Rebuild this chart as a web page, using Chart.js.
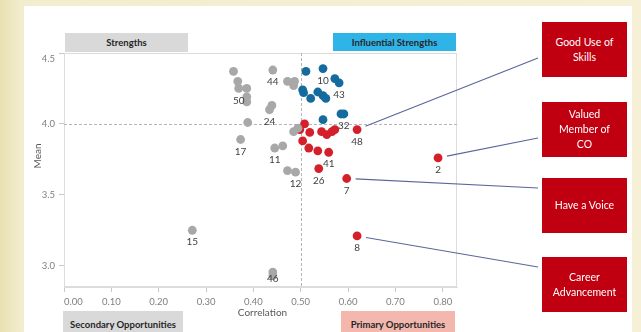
<!DOCTYPE html>
<html>
<head>
<meta charset="utf-8">
<script src="https://cdn.jsdelivr.net/npm/chart.js@4/dist/chart.umd.min.js"></script>
<style>
  html, body { margin: 0; padding: 0; }
  body {
    width: 641px; height: 332px; overflow: hidden; position: relative;
    background: linear-gradient(to right, #e9e0b2 0px, #f3edcf 22px, #f5f0d6 100%);
    font-family: Lato, "Open Sans", sans-serif;
  }
  #panel { position: absolute; left: 24px; top: 6px; width: 608px; height: 330px; background: #ffffff; }
  #wrap { position: absolute; left: 0; top: 0; width: 641px; height: 332px; }
  .tag {
    position: absolute; display: flex; align-items: center; justify-content: center;
    font-weight: bold; font-size: 9.5px; color: #262626; white-space: nowrap;
  }
  .call {
    position: absolute; background: #c00010; color: #ffffff;
    display: flex; align-items: center; justify-content: center; text-align: center;
    font-size: 10.5px; line-height: 15px;
  }
</style>
</head>
<body>
<div id="panel"></div>
<div id="wrap"><canvas id="c" width="641" height="332"></canvas></div>
<script>
// Correlation (x) vs mean score (y) for each survey item, grouped by quadrant.
const grayX = [0.358, 0.367, 0.369, 0.386, 0.386, 0.386, 0.441, 0.472, 0.487, 0.485, 0.439, 0.434,
               0.388, 0.373, 0.445, 0.462, 0.485, 0.494, 0.472, 0.489, 0.271, 0.441, 0.441];
const grayY = [4.37, 4.30, 4.25, 4.25, 4.19, 4.155, 4.38, 4.30, 4.30, 4.27, 4.13, 4.10,
               4.01, 3.89, 3.83, 3.845, 3.945, 3.97, 3.67, 3.66, 3.25, 2.955, 2.93];
const grayIds = ['', '', '50', '', '', '', '44', '', '', '', '', '24',
                 '', '17', '11', '', '', '', '', '12', '15', '', '46'];

const blueX = [0.547, 0.511, 0.572, 0.581, 0.504, 0.506, 0.521, 0.536, 0.547, 0.553, 0.547, 0.585, 0.591];
const blueY = [4.39, 4.37, 4.32, 4.29, 4.24, 4.22, 4.18, 4.225, 4.20, 4.18, 4.03, 4.07, 4.07];
const blueIds = ['10', '', '', '43', '', '', '', '', '', '', '', '', '32'];

const redX = [0.508, 0.498, 0.519, 0.544, 0.555, 0.566, 0.572, 0.619, 0.504, 0.517, 0.536, 0.559,
              0.538, 0.597, 0.619, 0.790];
const redY = [4.00, 3.96, 3.94, 3.945, 3.925, 3.945, 3.96, 3.96, 3.88, 3.83, 3.81, 3.80,
              3.685, 3.615, 3.21, 3.76];
const redIds = ['', '', '', '', '', '', '', '48', '', '', '', '41', '26', '7', '8', '2'];

// Axis ticks and quadrant split values
const xTicks = [0.0, 0.1, 0.2, 0.3, 0.4, 0.5, 0.6, 0.7, 0.8];
const yTicks = [3.0, 3.5, 4.0, 4.5];
const xMin = 0.0, xMax = 0.83, yMin = 2.85, yMax = 4.5;
const splitX = 0.5, splitY = 4.0;

// Callouts: item id -> text lines
const calloutIds = ['48', '2', '7', '8'];
const calloutText = [['Good Use of', 'Skills'], ['Valued', 'Member of', 'CO'], ['Have a Voice'], ['Career', 'Advancement']];

// Page layout (pixels)
const AREA = { left: 64, top: 53, right: 457, bottom: 287 };
const CALL_BOX = [
  { x: 542, y: 22, w: 85, h: 55, lineY: 58 },
  { x: 542, y: 102, w: 85, h: 55, lineY: 138 },
  { x: 542, y: 178, w: 85, h: 55, lineY: 188 },
  { x: 542, y: 257, w: 85, h: 55, lineY: 267 }
];
const TAGS = [
  { text: 'Strengths', x: 65, y: 33, w: 123, h: 19, bg: '#d9d9d9' },
  { text: 'Influential Strengths', x: 333, y: 33, w: 123, h: 18, bg: '#2fb4e8' },
  { text: 'Secondary Opportunities', x: 63, y: 311, w: 120, h: 26, bg: '#d9d9d9' },
  { text: 'Primary Opportunities', x: 341, y: 311, w: 114, h: 26, bg: '#f3b7ae' }
];

TAGS.forEach(t => {
  const d = document.createElement('div');
  d.className = 'tag';
  d.textContent = t.text;
  Object.assign(d.style, { left: t.x + 'px', top: t.y + 'px', width: t.w + 'px', height: t.h + 'px', background: t.bg });
  document.body.appendChild(d);
});
CALL_BOX.forEach((b, i) => {
  const d = document.createElement('div');
  d.className = 'call';
  d.innerHTML = calloutText[i].join('<br>');
  Object.assign(d.style, { left: b.x + 'px', top: b.y + 'px', width: b.w + 'px', height: b.h + 'px' });
  document.body.appendChild(d);
});

const toPts = (xs, ys) => xs.map((x, i) => ({ x, y: ys[i] }));
const seriesIds = [grayIds, blueIds, redIds];

const decorations = {
  id: 'decorations',
  beforeDatasetsDraw(chart) {
    const { ctx, chartArea: a, scales } = chart;
    ctx.save();
    ctx.strokeStyle = '#dcdcdc';
    ctx.lineWidth = 1;
    ctx.strokeRect(a.left + 0.5, a.top + 0.5, a.right - a.left - 1, a.bottom - a.top - 1);
    ctx.strokeStyle = '#b5b5b5';
    ctx.setLineDash([3, 2]);
    const px = Math.round(scales.x.getPixelForValue(splitX)) + 0.5;
    const py = Math.round(scales.y.getPixelForValue(splitY)) + 0.5;
    ctx.beginPath();
    ctx.moveTo(px, a.top); ctx.lineTo(px, a.bottom);
    ctx.moveTo(a.left, py); ctx.lineTo(a.right, py);
    ctx.stroke();
    ctx.restore();
  },
  afterDatasetsDraw(chart) {
    const { ctx, chartArea: a, scales } = chart;
    ctx.save();
    // point id labels
    ctx.font = '10px Lato, "Open Sans", sans-serif';
    ctx.fillStyle = '#3f3f3f';
    ctx.textAlign = 'center';
    ctx.textBaseline = 'middle';
    const located = {};
    chart.data.datasets.forEach((ds, di) => {
      ds.data.forEach((p, i) => {
        const id = seriesIds[di][i];
        if (!id) return;
        const x = scales.x.getPixelForValue(p.x);
        const y = scales.y.getPixelForValue(p.y);
        located[id] = { x, y };
        ctx.fillText(id, x, Math.min(y + 12, a.bottom - 8));
      });
    });
    // callout connectors
    ctx.strokeStyle = '#5a6899';
    ctx.lineWidth = 1.2;
    calloutIds.forEach((id, i) => {
      const p = located[id];
      const b = CALL_BOX[i];
      const ex = b.x - 4, ey = b.lineY;
      const dx = ex - p.x, dy = ey - p.y, len = Math.hypot(dx, dy);
      ctx.beginPath();
      ctx.moveTo(p.x + dx / len * 9, p.y + dy / len * 9);
      ctx.lineTo(ex, ey);
      ctx.stroke();
    });
    // axis titles
    ctx.fillStyle = '#595959';
    ctx.font = '10px Lato, "Open Sans", sans-serif';
    ctx.fillText('Correlation', (a.left + a.right) / 2 + 2, 313);
    ctx.translate(38, 156);
    ctx.rotate(-Math.PI / 2);
    ctx.fillText('Mean', 0, 0);
    ctx.restore();
  }
};

new Chart(document.getElementById('c'), {
  type: 'scatter',
  data: {
    datasets: [
      { data: toPts(grayX, grayY), backgroundColor: '#a8a8a8' },
      { data: toPts(blueX, blueY), backgroundColor: '#156b9e' },
      { data: toPts(redX, redY), backgroundColor: '#d4202a' }
    ]
  },
  options: {
    responsive: false,
    animation: false,
    events: [],
    layout: { padding: { left: 0, top: AREA.top, right: 641 - AREA.right, bottom: 0 } },
    elements: { point: { radius: 4.4, borderWidth: 0, hoverRadius: 4.4 } },
    plugins: { legend: { display: false }, tooltip: { enabled: false } },
    scales: {
      x: {
        type: 'linear', min: xMin, max: xMax,
        afterBuildTicks: s => { s.ticks = xTicks.map(v => ({ value: v })).concat([{ value: xMax }]); },
        afterFit: s => { s.height = 332 - AREA.bottom; },
        ticks: {
          autoSkip: false, maxRotation: 0, align: 'inner', padding: 4,
          color: '#7f7f7f', font: { family: 'Lato', size: 9.5 },
          callback: v => (v === xMax ? '' : v.toFixed(2))
        },
        grid: {
          drawOnChartArea: false, tickLength: 5,
          color: c => (c.tick && c.tick.value === xMax ? 'rgba(0,0,0,0)' : '#c8c8c8')
        },
        border: { color: '#dcdcdc' }
      },
      y: {
        type: 'linear', min: yMin, max: yMax,
        afterBuildTicks: s => { s.ticks = yTicks.map(v => ({ value: v })); },
        afterFit: s => { s.width = AREA.left; },
        ticks: {
          padding: 4, color: '#7f7f7f', font: { family: 'Lato', size: 9.5 },
          // the top label sits just inside the frame, below its tick
          callback: v => (v === yMax ? ['', v.toFixed(1)] : v.toFixed(1))
        },
        grid: { drawOnChartArea: false, tickLength: 5, color: '#c8c8c8' },
        border: { color: '#dcdcdc' }
      }
    }
  },
  plugins: [decorations]
});
</script>
</body>
</html>
